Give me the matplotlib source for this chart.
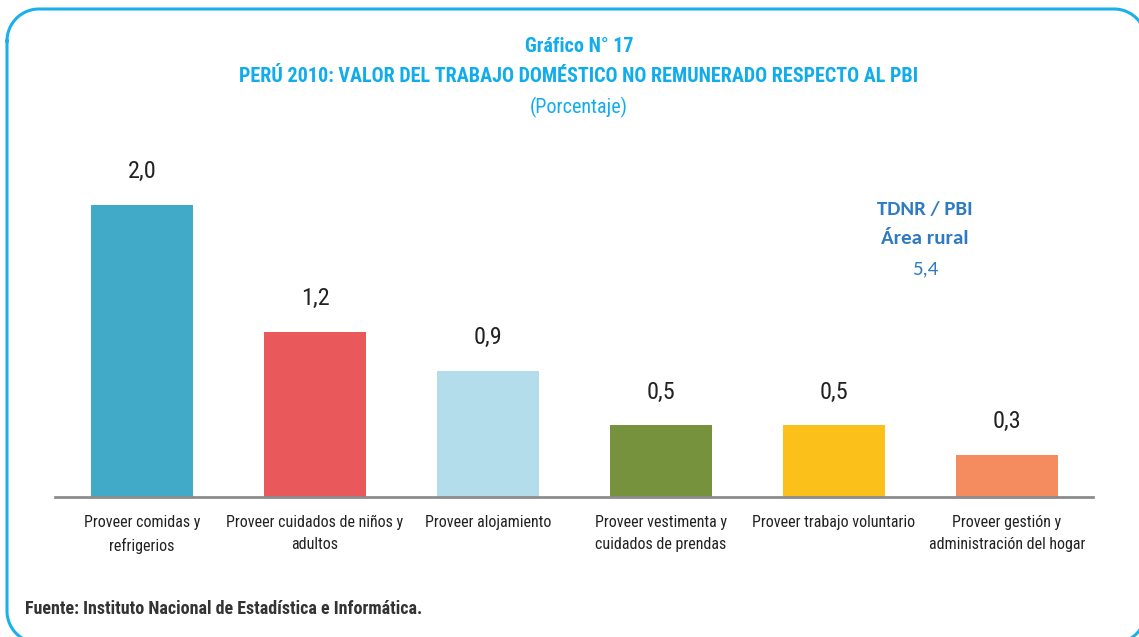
import numpy as np
import matplotlib.pyplot as plt

# datos del grafico
categorias = ["Proveer comidas y\nrefrigerios", "Proveer cuidados de niños y\nadultos",
              "Proveer alojamiento", "Proveer vestimenta y\ncuidados de prendas",
              "Proveer trabajo voluntario", "Proveer gestión y\nadministración del hogar"]
valores = [2.0, 1.13, 0.86, 0.49, 0.49, 0.29]
etiquetas = ["2,0", "1,2", "0,9", "0,5", "0,5", "0,3"]
colores = ["#41AAC8", "#E9595B", "#B4DDEB", "#76923C", "#FBC01A", "#F48C5F"]

narrow = ["Roboto Condensed", "DejaVu Sans"]
calibri = ["Carlito", "DejaVu Sans"]
W, H = 1139, 637
fig = plt.figure(figsize=(W / 100, H / 100), dpi=100)

# marco redondeado de fondo (en pixeles, y hacia abajo)
bg = fig.add_axes([0, 0, 1, 1], zorder=0)
bg.set_xlim(0, W)
bg.set_ylim(H, 0)
bg.axis("off")
x0, y0, x1, y1, r = 7, 9, 1146, 643, 32
t = np.linspace(0, np.pi / 2, 30)
px = np.concatenate([x0 + r - r * np.cos(t), x1 - r + r * np.sin(t),
                     x1 - r + r * np.cos(t), x0 + r - r * np.sin(t), [x0]])
py = np.concatenate([y0 + r - r * np.sin(t), y0 + r - r * np.cos(t),
                     y1 - r + r * np.sin(t), y1 - r + r * np.cos(t), [y0 + r]])
bg.plot(px, py, color="#1BB0EA", linewidth=2.2)

# ejes de las barras, posicionados en pixeles
base = 497
top = 161
ax = fig.add_axes([55 / W, (H - base) / H, (1093 - 55) / W, (base - top) / H], zorder=1)
ax.patch.set_alpha(0)
x = range(len(valores))
ax.bar(x, valores, width=0.595, color=colores)
ax.set_xlim(-0.503, 5.497)
ax.set_ylim(0, 2.3)
for i, v in enumerate(valores):
    ax.text(i, v + 0.15, etiquetas[i], ha="center", va="bottom", fontsize=17.5,
            family=narrow, color="#222222")
ax.set_yticks([])
ax.set_xticks(list(x))
ax.set_xticklabels(categorias, family=narrow, fontsize=11.5, color="#222222", linespacing=1.6)
ax.tick_params(axis="x", length=0, pad=13)
for s in ["top", "right", "left"]:
    ax.spines[s].set_visible(False)
ax.spines["bottom"].set_color("#8C8C8C")
ax.spines["bottom"].set_linewidth(2)

# titulos
azul = "#10ACEB"
fig.text(579 / W, 1 - 46 / H, "Gráfico N° 17", ha="center", va="center", fontsize=14.5,
         fontweight="bold", family=narrow, color=azul)
fig.text(579 / W, 1 - 76 / H, "PERÚ 2010: VALOR DEL TRABAJO DOMÉSTICO NO REMUNERADO RESPECTO AL PBI",
         ha="center", va="center", fontsize=14.5, fontweight="bold", family=narrow, color=azul)
fig.text(579 / W, 1 - 107 / H, "(Porcentaje)", ha="center", va="center", fontsize=14.5,
         family=narrow, color=azul)

# recuadro TDNR / PBI
azul2 = "#2F7BC1"
fig.text(925 / W, 1 - 209 / H, "TDNR / PBI", ha="center", va="center", fontsize=15,
         fontweight="bold", family=calibri, color=azul2)
fig.text(925 / W, 1 - 239 / H, "Área rural", ha="center", va="center", fontsize=15,
         fontweight="bold", family=calibri, color=azul2)
fig.text(925 / W, 1 - 269 / H, "5,4", ha="center", va="center", fontsize=15,
         family=calibri, color=azul2)

# fuente
fig.text(25 / W, 1 - 609 / H, "Fuente: Instituto Nacional de Estadística e Informática.",
         ha="left", va="center", fontsize=13, fontweight="bold", family=narrow, color="#333333")

fig.savefig("out.png", dpi=100)
